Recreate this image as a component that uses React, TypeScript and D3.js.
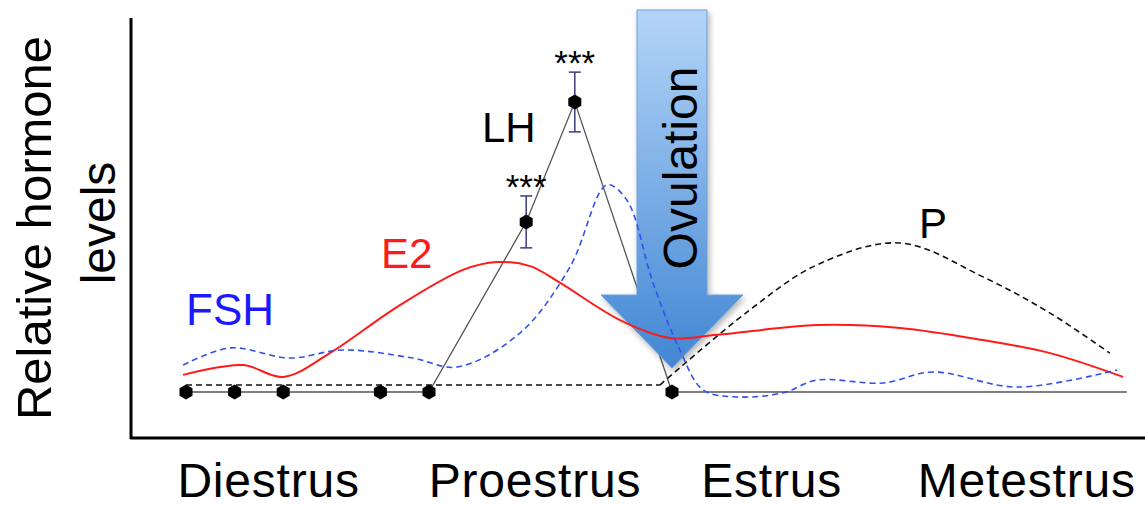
import React from "react";
import * as d3 from "d3";

// LH measured points (x = sampling index, y = relative level)
const lhX = [0, 1, 2, 4, 5, 7, 8, 10];
const lhY = [0, 0, 0, 0, 0, 5.86, 10, 0];
const lhTailX = 19.36;
const lhErrX = [7, 8];
const lhErrLow = [4.97, 8.97];
const lhErrHigh = [6.76, 11.03];

// E2 (solid red)
const e2X = [-0.06, 1.17, 2.0, 2.96, 4.34, 5.7, 6.4, 7.08, 7.7, 8.93, 9.96, 10.93, 12.98, 14.69, 16.4, 17.78, 19.28];
const e2Y = [0.59, 0.93, 0.52, 1.34, 2.93, 4.21, 4.48, 4.34, 3.76, 2.48, 1.86, 1.97, 2.31, 2.21, 1.79, 1.34, 0.52];

// FSH (dashed blue)
const fshX = [-0.06, 0.91, 2.14, 3.23, 4.67, 5.58, 6.87, 7.9, 8.66, 9.07, 9.61, 10.16, 10.64, 11.34, 12.28, 12.98, 14.34, 15.37, 17.1, 19.16];
const fshY = [0.93, 1.52, 1.17, 1.45, 1.17, 0.86, 2.03, 4.31, 7.14, 6.62, 3.76, 1.45, 0.07, -0.17, -0.03, 0.41, 0.31, 0.69, 0.17, 0.76];

// P (dashed black)
const pX = [0, 9.75, 11.6, 12.98, 14.69, 16.4, 17.78, 19.01];
const pY = [0.24, 0.24, 2.83, 4.38, 5.14, 3.97, 2.72, 1.34];

const stages = ["Diestrus", "Proestrus", "Estrus", "Metestrus"];
const stageCenters = [1.7, 7.18, 12.05, 17.3];

const ovulationX = 10;

const W = 1145;
const H = 506;

const x = d3.scaleLinear().domain([0, 10]).range([186, 672]);
const y = d3.scaleLinear().domain([0, 10]).range([392, 102]);

type Pt = [number, number];
const zip = (xs: number[], ys: number[]): Pt[] => xs.map((v, i) => [v, ys[i]]);

const hexPath = (cx: number, cy: number, r: number) => {
  const pts = d3.range(6).map((i) => {
    const a = (Math.PI / 3) * i + Math.PI / 6;
    return [cx + r * Math.cos(a), cy + r * Math.sin(a)];
  });
  return "M" + pts.map((p) => p.join(",")).join("L") + "Z";
};

export default function App() {
  const lineLin = d3.line<Pt>().x((d) => x(d[0])).y((d) => y(d[1]));
  const lineSmooth = d3
    .line<Pt>()
    .x((d) => x(d[0]))
    .y((d) => y(d[1]))
    .curve(d3.curveCatmullRom.alpha(0.5));

  const lhPts = zip(lhX, lhY);
  const lhFull: Pt[] = [...lhPts, [lhTailX, 0]];
  const pPts = zip(pX, pY);

  const ax = x(ovulationX);
  const shaftHalf = 35;
  const headHalf = 71;
  const arrowTop = 10;
  const headBase = 295;
  const tipY = 368;
  const arrowPath = `M${ax - shaftHalf},${arrowTop}L${ax + shaftHalf},${arrowTop}L${ax + shaftHalf},${headBase}L${ax + headHalf},${headBase}L${ax},${tipY}L${ax - headHalf},${headBase}L${ax - shaftHalf},${headBase}Z`;

  const font = "Liberation Sans, Arial, Helvetica, sans-serif";

  return (
    <svg
      width={W}
      height={H}
      style={{ position: "absolute", left: 0, top: 0, background: "#fff" }}
      fontFamily={font}
    >
      <defs>
        <linearGradient id="arrowGrad" x1="0" y1="0" x2="0" y2="1">
          <stop offset="0%" stopColor="#b4d5f8" />
          <stop offset="100%" stopColor="#4186d3" />
        </linearGradient>
        <filter id="shadow" x="-20%" y="-10%" width="140%" height="130%">
          <feDropShadow dx="2" dy="3" stdDeviation="3" floodColor="#000" floodOpacity="0.3" />
        </filter>
      </defs>

      {/* axes */}
      <line x1={131} y1={18} x2={131} y2={439} stroke="#000" strokeWidth={3} />
      <line x1={130} y1={438} x2={1145} y2={438} stroke="#000" strokeWidth={3} />

      {/* LH line (behind arrow) */}
      <path d={lineLin(lhFull) || ""} fill="none" stroke="#555" strokeWidth={1.3} />

      {/* ovulation arrow */}
      <path d={arrowPath} fill="url(#arrowGrad)" stroke="#6e9fd6" strokeWidth={1} filter="url(#shadow)" />
      <text
        transform={`translate(${ax + 25},${168}) rotate(-90)`}
        textAnchor="middle"
        fontSize={48}
        fill="#000"
      >
        Ovulation
      </text>

      {/* P */}
      <path d={lineLin(pPts.slice(0, 2)) || ""} fill="none" stroke="#111" strokeWidth={1.6} strokeDasharray="6,4" />
      <path d={lineSmooth(pPts.slice(1)) || ""} fill="none" stroke="#111" strokeWidth={1.6} strokeDasharray="6,4" />

      {/* E2 */}
      <path d={lineSmooth(zip(e2X, e2Y)) || ""} fill="none" stroke="#ff1a1a" strokeWidth={2} />

      {/* FSH */}
      <path d={lineSmooth(zip(fshX, fshY)) || ""} fill="none" stroke="#3050f0" strokeWidth={1.6} strokeDasharray="6,4" />

      {/* LH error bars */}
      {lhErrX.map((ex, i) => (
        <g key={i} stroke="#3b3b80" strokeWidth={1.5}>
          <line x1={x(ex)} x2={x(ex)} y1={y(lhErrLow[i])} y2={y(lhErrHigh[i])} />
          <line x1={x(ex) - 6} x2={x(ex) + 6} y1={y(lhErrLow[i])} y2={y(lhErrLow[i])} />
          <line x1={x(ex) - 6} x2={x(ex) + 6} y1={y(lhErrHigh[i])} y2={y(lhErrHigh[i])} />
          <text
            x={x(ex)}
            y={y(lhErrHigh[i]) + 3}
            textAnchor="middle"
            fontSize={35}
            stroke="none"
            fill="#000"
          >
            ***
          </text>
        </g>
      ))}

      {/* LH markers */}
      {lhPts.map((d, i) => (
        <path key={i} d={hexPath(x(d[0]), y(d[1]), 7.5)} fill="#000" />
      ))}

      {/* series labels */}
      <text x={186} y={325} fontSize={44} fill="#1a1aff">FSH</text>
      <text x={381} y={268} fontSize={42} fill="#ff1a1a">E2</text>
      <text x={482} y={142} fontSize={42} fill="#000">LH</text>
      <text x={919} y={238} fontSize={42} fill="#000">P</text>

      {/* stage labels */}
      {stages.map((s, i) => (
        <text
          key={s}
          x={x(stageCenters[i])}
          y={497}
          textAnchor="middle"
          fontSize={48}
          letterSpacing={0.8}
          fill="#000"
        >
          {s}
        </text>
      ))}

      {/* y label */}
      <text transform="translate(51,228) rotate(-90)" textAnchor="middle" fontSize={49} fill="#000">
        Relative hormone
      </text>
      <text transform="translate(115,223) rotate(-90)" textAnchor="middle" fontSize={48} fill="#000">
        levels
      </text>
    </svg>
  );
}
